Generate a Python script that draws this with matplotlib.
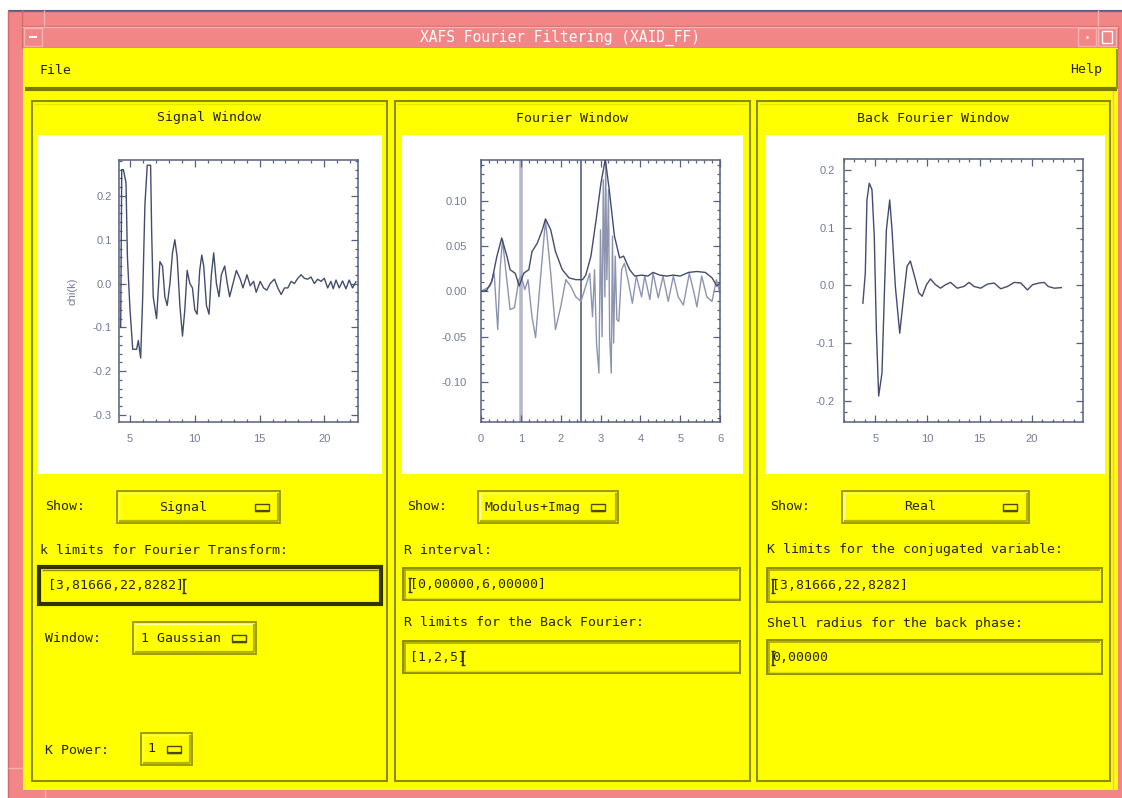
import matplotlib
matplotlib.use('Agg')
import matplotlib.pyplot as plt
from matplotlib.patches import Rectangle
from matplotlib.ticker import MultipleLocator, FormatStrFormatter

# ---------------- data ----------------
signal_k = [4.28, 4.36, 4.49, 4.69, 4.80, 5.00, 5.21, 5.51, 5.64, 5.82,
            5.97, 6.15, 6.33, 6.59, 6.67, 6.79, 7.05, 7.31, 7.51, 7.69,
            7.87, 8.08, 8.28, 8.46, 8.64, 8.85, 9.05, 9.23, 9.41, 9.62,
            9.82, 10.00, 10.18, 10.38, 10.54, 10.69, 10.90, 11.10, 11.28, 11.46,
            11.67, 11.87, 12.05, 12.31, 12.51, 12.69, 12.95, 13.21, 13.51, 13.72,
            14.03, 14.28, 14.54, 14.74, 15.05, 15.31, 15.56, 15.82, 16.15, 16.41,
            16.67, 16.92, 17.18, 17.44, 17.69, 17.95, 18.21, 18.46, 18.72, 18.97,
            19.23, 19.49, 19.74, 20.00, 20.26, 20.51, 20.69, 20.90, 21.15, 21.41,
            21.67, 21.92, 22.18, 22.44]
signal_chi = [-0.10, 0.26, 0.26, 0.23, 0.06, -0.06, -0.15, -0.15, -0.13, -0.17,
              -0.04, 0.18, 0.27, 0.27, 0.12, -0.03, -0.08, 0.05, 0.04, -0.03,
              -0.05, 0.0, 0.07, 0.10, 0.06, -0.05, -0.12, -0.06, 0.03, 0.0,
              -0.01, -0.06, -0.07, 0.03, 0.065, 0.04, -0.05, -0.07, 0.02, 0.07,
              0.0, -0.03, 0.02, 0.04, 0.0, -0.03, 0.0, 0.03, 0.01, -0.01,
              0.02, -0.005, 0.005, -0.02, 0.005, -0.01, -0.015, 0.0, 0.01, -0.01,
              -0.025, -0.01, -0.01, 0.005, 0.0, 0.012, 0.02, 0.012, 0.01, 0.015,
              0.0, 0.01, 0.005, 0.012, -0.01, 0.005, -0.012, 0.008, -0.01, 0.006,
              -0.012, 0.008, -0.01, 0.004]

mod_r = [0.00, 0.14, 0.27, 0.40, 0.52, 0.65, 0.73, 0.86, 0.96, 1.07,
         1.20, 1.28, 1.41, 1.54, 1.62, 1.75, 1.87, 2.04, 2.21, 2.38,
         2.55, 2.63, 2.76, 2.89, 3.01, 3.12, 3.22, 3.35, 3.48, 3.58,
         3.73, 3.86, 4.03, 4.19, 4.32, 4.49, 4.66, 4.83, 5.00, 5.21,
         5.42, 5.63, 5.80, 5.92, 6.00]
mod_val = [0.000, 0.001, 0.011, 0.039, 0.059, 0.039, 0.024, 0.020, 0.006, 0.020,
           0.024, 0.044, 0.053, 0.068, 0.080, 0.068, 0.044, 0.024, 0.015, 0.013,
           0.013, 0.018, 0.039, 0.079, 0.119, 0.146, 0.112, 0.061, 0.037, 0.039,
           0.024, 0.017, 0.018, 0.017, 0.021, 0.018, 0.017, 0.018, 0.017, 0.021,
           0.022, 0.021, 0.015, 0.006, 0.009]

imag_r = [0.00, 0.12, 0.23, 0.33, 0.42, 0.48, 0.54, 0.62, 0.73, 0.84,
          0.95, 1.01, 1.10, 1.18, 1.28, 1.37, 1.49, 1.62, 1.75, 1.87,
          2.00, 2.13, 2.25, 2.38, 2.51, 2.63, 2.73, 2.80, 2.85, 2.90,
          2.96, 3.00, 3.04, 3.07, 3.11, 3.13, 3.16, 3.20, 3.23, 3.27,
          3.30, 3.33, 3.37, 3.41, 3.46, 3.53, 3.60, 3.69, 3.80, 3.90,
          4.03, 4.11, 4.24, 4.32, 4.45, 4.57, 4.70, 4.83, 4.95, 5.08,
          5.23, 5.35, 5.42, 5.54, 5.67, 5.80, 5.91, 6.00]
imag_val = [0.000, 0.003, 0.006, 0.020, -0.042, 0.024, 0.057, 0.024, -0.020, -0.018,
            0.013, 0.017, 0.002, 0.013, -0.028, -0.051, 0.013, 0.079, 0.020, -0.042,
            -0.017, 0.013, 0.006, -0.006, -0.011, 0.006, 0.020, -0.028, 0.024, -0.057,
            -0.090, 0.068, -0.050, 0.123, -0.006, 0.143, 0.013, 0.112, -0.050, -0.090,
            0.061, -0.057, 0.039, -0.031, -0.033, 0.024, 0.031, 0.013, -0.013, 0.017,
            -0.006, 0.017, -0.009, 0.020, -0.007, 0.017, -0.011, 0.017, -0.006, -0.015,
            0.020, -0.002, -0.017, 0.017, -0.006, -0.011, 0.013, -0.002]

r_window = [1.0, 2.5]

back_k = [3.81, 4.04, 4.20, 4.42, 4.68, 4.90, 5.10, 5.32, 5.64, 5.86,
          6.06, 6.38, 6.60, 6.92, 7.34, 7.72, 8.04, 8.36, 8.75, 9.17,
          9.49, 9.90, 10.29, 10.77, 11.25, 11.73, 12.21, 12.85, 13.49, 13.97,
          14.46, 15.10, 15.74, 16.38, 17.02, 17.66, 18.30, 18.94, 19.58, 20.06,
          20.70, 21.19, 21.57, 22.15, 22.83]
back_real = [-0.031, 0.021, 0.148, 0.177, 0.166, 0.085, -0.077, -0.192, -0.152, -0.019,
             0.096, 0.148, 0.096, -0.002, -0.083, -0.019, 0.033, 0.042, 0.016, -0.013,
             -0.019, 0.001, 0.011, 0.001, -0.005, 0.001, 0.005, -0.005, -0.002, 0.005,
             -0.002, -0.005, 0.002, 0.004, -0.006, -0.002, 0.005, 0.004, -0.008, 0.001,
             0.004, 0.005, -0.002, -0.005, -0.004]

# ---------------- texts ----------------
window_title = "XAFS Fourier Filtering (XAID_FF)"
menu_items = ["File", "Help"]
panel_titles = ["Signal Window", "Fourier Window", "Back Fourier Window"]
signal_ylabel = "chi(k)"
show_choices = ["Signal", "Modulus+Imag", "Real"]
window_choice = "1 Gaussian"
kpower_choice = "1"
field_labels = ["k limits for Fourier Transform:", "R interval:",
                "R limits for the Back Fourier:",
                "K limits for the conjugated variable:",
                "Shell radius for the back phase:"]
field_values = ["[3,81666,22,8282]", "[0,00000,6,00000]", "[1,2,5]",
                "[3,81666,22,8282]", "0,00000"]

# ---------------- style ----------------
W, H = 1122, 798
YEL = '#ffff00'
OLIVE = '#8c8c00'
OLIVE_D = '#4a4a00'
OLIVE_L = '#ffffa0'
PINK = '#f28686'
PINK_D = '#d46a6a'
PINK_L = '#f8b0b0'
TXT = '#262600'
AXC = '#566080'
LBL = '#737b98'
LINE = '#434c6e'
MONO = 'DejaVu Sans Mono'

fig = plt.figure(figsize=(W / 100, H / 100), dpi=100)
fig.patch.set_facecolor('white')
bg = fig.add_axes([0, 0, 1, 1])
bg.set_xlim(0, W)
bg.set_ylim(H, 0)
bg.axis('off')


def rect(x0, y0, x1, y1, fc, ec='none', lw=0.0, z=1):
    bg.add_patch(Rectangle((x0, y0), x1 - x0, y1 - y0, facecolor=fc,
                           edgecolor=ec, linewidth=lw, zorder=z))


def seg(xs, ys, c, lw=1.0, z=3):
    bg.plot(xs, ys, color=c, lw=lw, zorder=z, solid_capstyle='butt')


def txt(x, y, s, ha='left', size=9.5, color=TXT, family=MONO, z=5):
    bg.text(x, y, s, ha=ha, va='center', fontsize=size, color=color,
            family=family, zorder=z)


def raised(x0, y0, x1, y1):
    rect(x0, y0, x1, y1, YEL, OLIVE, 1.2, z=2)
    seg([x0 + 2, x1 - 2], [y0 + 2, y0 + 2], OLIVE_L, 1.0)
    seg([x0 + 2, x0 + 2], [y0 + 2, y1 - 2], OLIVE_L, 1.0)
    seg([x0 + 2, x1 - 2], [y1 - 2, y1 - 2], '#b5b500', 1.6)
    seg([x1 - 2, x1 - 2], [y0 + 2, y1 - 2], '#b5b500', 1.6)


def glyph(cx, cy):
    rect(cx - 7, cy - 3.5, cx + 7, cy + 3.5, YEL, OLIVE_D, 1.0, z=4)
    seg([cx - 7, cx + 7], [cy + 3.5, cy + 3.5], OLIVE_D, 1.6, z=4)


def dropdown(x0, y0, x1, y1, label, tx, ha, gx):
    raised(x0, y0, x1, y1)
    cy = (y0 + y1) / 2
    txt(tx, cy, label, ha=ha)
    glyph(gx, cy)


def field(x0, y0, x1, y1, focused=False):
    if focused:
        rect(x0, y0, x1, y1, YEL, '#333300', 3.0, z=2)
        seg([x0 + 3, x1 - 3], [y0 + 3, y0 + 3], OLIVE, 1.0)
    else:
        rect(x0, y0, x1, y1, YEL, OLIVE, 1.4, z=2)
        seg([x0 + 1.5, x1 - 1.5], [y0 + 2, y0 + 2], '#a8a800', 1.2)
        seg([x0 + 2, x0 + 2], [y0 + 1.5, y1 - 1.5], '#a8a800', 1.2)
        seg([x0 + 2, x1 - 2], [y1 - 2.5, y1 - 2.5], '#e0e000', 1.0)


def ibeam(x, cy):
    seg([x, x], [cy - 7, cy + 7], '#333300', 1.2, z=6)
    seg([x - 2, x + 2], [cy - 7, cy - 7], '#333300', 1.0, z=6)
    seg([x - 2, x + 2], [cy + 7, cy + 7], '#333300', 1.0, z=6)


# ---------------- window frame ----------------
rect(8, 10, W, H, PINK, z=0.5)
seg([8, W], [10.5, 10.5], '#5d6682', 1.6)
seg([8.5, 8.5], [10, H], PINK_D, 1.0)
seg([22, 22], [10, 26], PINK_D, 1.0)
seg([44, 44], [10, 26], PINK_L, 1.0)
seg([1098, 1098], [10, 26], PINK_L, 1.0)
seg([8, 23], [768, 768], PINK_L, 1.0)
seg([45, 45], [790, H], PINK_L, 1.0)
seg([1113, 1113], [90, 790], PINK_L, 1.0)

# title bar
rect(22, 26, 1118, 48, PINK, PINK_D, 1.0, z=1)
seg([22, 1118], [26.5, 26.5], PINK_L, 1.0)
rect(24, 28, 42, 46, PINK, PINK_L, 1.0, z=2)
seg([29, 37], [37, 37], 'white', 1.5)
rect(1078, 28, 1096, 46, PINK, PINK_L, 1.0, z=2)
seg([1086, 1088], [37, 37], 'white', 2.0)
rect(1098, 28, 1116, 46, PINK, PINK_L, 1.0, z=2)
rect(1102, 31, 1112, 43, 'none', 'white', 1.0, z=3)
txt(560, 37.5, window_title, ha='center', size=10.5, color='white')

# main body + menu bar
rect(23, 48, 1118, 790, YEL, z=1)
rect(25, 49, 1117, 89, YEL, z=1.5)
seg([25, 1117], [89, 89], '#7a7a00', 3.0)
seg([1117, 1117], [49, 89], '#9a9a00', 1.5)
txt(40, 70, menu_items[0])
txt(1102, 70, menu_items[1], ha='right')

# panels
panels = [(32, 387), (395, 750), (757, 1110)]
white_boxes = [(37, 382), (402, 743), (765, 1105)]
for (px0, px1), (wx0, wx1), title in zip(panels, white_boxes, panel_titles):
    rect(px0, 101, px1, 781, YEL, OLIVE, 1.5, z=1.6)
    seg([px0 + 2.5, px1 - 2.5], [103.5, 103.5], '#e6e600', 1.0)
    txt((px0 + px1) / 2, 118, title, ha='center')
    rect(wx0, 135, wx1, 474, 'white', z=1.8)

# ---------------- widgets ----------------
# left panel
txt(45, 507, "Show:")
dropdown(117, 491, 280, 523, show_choices[0], 183, 'center', 262)
txt(40, 550, field_labels[0])
field(39, 567, 381, 604, focused=True)
txt(48, 585.5, field_values[0])
ibeam(184, 585.5)
txt(45, 638, "Window:")
dropdown(133, 622, 256, 654, window_choice, 141, 'left', 239)
txt(45, 750, "K Power:")
dropdown(141, 733, 192, 765, kpower_choice, 147, 'left', 174)

# middle panel
txt(407, 507, "Show:")
dropdown(478, 491, 618, 523, show_choices[1], 485, 'left', 598)
txt(404, 550, field_labels[1])
field(403, 568, 740, 600)
txt(410, 584.5, field_values[1])
ibeam(410, 584.5)
txt(404, 622, field_labels[2])
field(403, 641, 740, 673)
txt(410, 657.5, field_values[2])
ibeam(463, 657.5)

# right panel
txt(770, 507, "Show:")
dropdown(842, 491, 1029, 523, show_choices[2], 920, 'center', 1010)
txt(767, 550, field_labels[3])
field(767, 568, 1102, 602)
txt(772, 585.5, field_values[3])
ibeam(773, 585.5)
txt(767, 623, field_labels[4])
field(767, 640, 1102, 674)
txt(772, 657.5, field_values[4])
ibeam(773, 657.5)


# ---------------- plots ----------------
def make_axes(x0, y0, x1, y1, ypad):
    ax = fig.add_axes([x0 / W, 1 - y1 / H, (x1 - x0) / W, (y1 - y0) / H])
    ax.set_facecolor('white')
    for s in ax.spines.values():
        s.set_color(AXC)
        s.set_linewidth(1.1)
    ax.tick_params(which='both', direction='in', top=True, right=True,
                   colors=AXC, labelcolor=LBL, width=0.9)
    ax.tick_params(which='major', length=5)
    ax.tick_params(which='minor', length=2.5)
    ax.tick_params(axis='x', pad=9)
    ax.tick_params(axis='y', pad=ypad)
    return ax


def style_labels(ax):
    for lab in ax.get_xticklabels() + ax.get_yticklabels():
        lab.set_family('Liberation Sans')
        lab.set_fontsize(8)


# Signal
ax1 = make_axes(119, 160, 358, 422, 5)
ax1.plot(signal_k, signal_chi, color=LINE, lw=1.0)
ax1.set_xlim(4.15, 22.6)
ax1.set_ylim(-0.316, 0.282)
ax1.xaxis.set_major_locator(MultipleLocator(5))
ax1.xaxis.set_minor_locator(MultipleLocator(1))
ax1.yaxis.set_major_locator(MultipleLocator(0.1))
ax1.yaxis.set_minor_locator(MultipleLocator(0.02))
ax1.xaxis.set_major_formatter(FormatStrFormatter('%d'))
ax1.yaxis.set_major_formatter(FormatStrFormatter('%.1f'))
ax1.set_ylabel(signal_ylabel, color=LBL, fontsize=8, family='Liberation Sans', labelpad=11)
style_labels(ax1)

# Fourier
ax2 = make_axes(481, 160, 720, 422, 10)
for rv, c, lw in zip(r_window, ['#b3b8ca', '#59617f'], [2.6, 1.2]):
    ax2.axvline(rv, color=c, lw=lw, zorder=1)
ax2.plot(imag_r, imag_val, color='#8d94b0', lw=1.0, zorder=2)
ax2.plot(mod_r, mod_val, color=LINE, lw=1.0, zorder=3)
ax2.set_xlim(0, 6)
ax2.set_ylim(-0.144, 0.145)
ax2.xaxis.set_major_locator(MultipleLocator(1))
ax2.xaxis.set_minor_locator(MultipleLocator(0.2))
ax2.yaxis.set_major_locator(MultipleLocator(0.05))
ax2.yaxis.set_minor_locator(MultipleLocator(0.01))
ax2.xaxis.set_major_formatter(FormatStrFormatter('%d'))
ax2.yaxis.set_major_formatter(FormatStrFormatter('%.2f'))
style_labels(ax2)

# Back Fourier
ax3 = make_axes(844, 159, 1083, 422, 6.5)
ax3.plot(back_k, back_real, color=LINE, lw=1.0)
ax3.set_xlim(2.0, 24.9)
ax3.set_ylim(-0.237, 0.219)
ax3.xaxis.set_major_locator(MultipleLocator(5))
ax3.xaxis.set_minor_locator(MultipleLocator(1))
ax3.yaxis.set_major_locator(MultipleLocator(0.1))
ax3.yaxis.set_minor_locator(MultipleLocator(0.02))
ax3.xaxis.set_major_formatter(FormatStrFormatter('%d'))
ax3.yaxis.set_major_formatter(FormatStrFormatter('%.1f'))
style_labels(ax3)

fig.savefig('out.png', dpi=100, facecolor='white')
